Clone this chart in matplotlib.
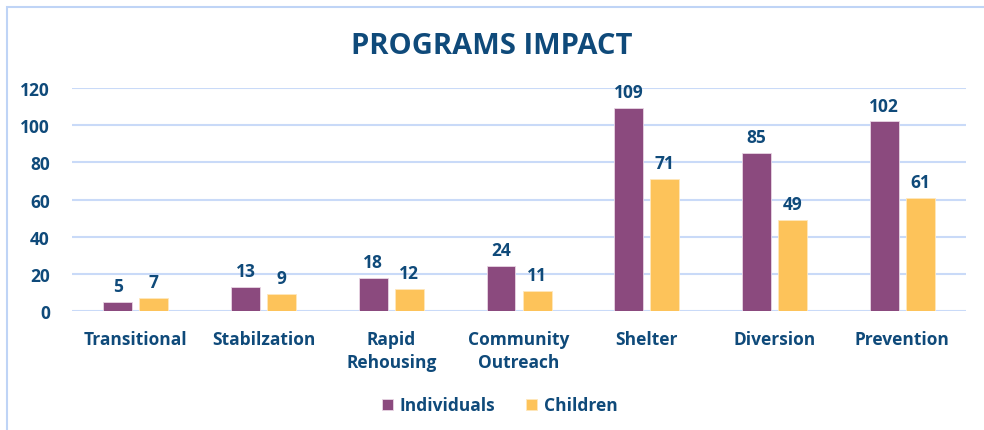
import matplotlib.pyplot as plt
import numpy as np
from matplotlib.patches import Rectangle

categories = ['Transitional', 'Stabilzation', 'Rapid\nRehousing', 'Community\nOutreach',
              'Shelter', 'Diversion', 'Prevention']
individuals = [5, 13, 18, 24, 109, 85, 102]
children = [7, 9, 12, 11, 71, 49, 61]
yticks = [0, 20, 40, 60, 80, 100, 120]

navy = '#0F4A7A'
purple = '#8B4A7E'
yellow = '#FDC35A'
grid = '#C9DAF8'

plt.rcParams['font.family'] = ['Open Sans', 'DejaVu Sans']
plt.rcParams['font.weight'] = 'bold'

fig = plt.figure(figsize=(9.84, 4.31), dpi=100)
ax = fig.add_axes([0.0732, 0.2761, 0.9085, 0.5174])

# light blue frame around the chart
fig.patches.append(Rectangle((7 / 984, -0.1), 1.2, 1.1 - 8 / 431, transform=fig.transFigure,
                             fill=False, edgecolor='#BFD4F6', linewidth=1.5))

x = np.arange(len(categories))
w = 0.227
off = 0.141
b1 = ax.bar(x - off, individuals, w, color=purple, edgecolor='#E8D6E4', linewidth=0.6,
            label='Individuals', zorder=3)
b2 = ax.bar(x + off, children, w, color=yellow, edgecolor='#FFE8BC', linewidth=0.6,
            label='Children', zorder=3)
ax.bar_label(b1, padding=5, color=navy, fontsize=12.5, fontweight='bold')
ax.bar_label(b2, padding=5, color=navy, fontsize=12.5, fontweight='bold')

ax.set_xlim(-0.5, len(categories) - 0.5)
ax.set_ylim(0, 120)
ax.set_yticks(yticks)
ax.set_xticks(x)
ax.set_xticklabels(categories, linespacing=1.3)
ax.tick_params(axis='both', length=0, labelsize=12.5, labelcolor=navy)
ax.tick_params(axis='x', pad=14)
ax.tick_params(axis='y', pad=16)
for lab in ax.get_xticklabels() + ax.get_yticklabels():
    lab.set_fontweight('bold')
ax.yaxis.grid(True, color=grid, linewidth=1.5, zorder=0)
ax.set_axisbelow(True)
for s in ax.spines.values():
    s.set_visible(False)

fig.text(0.5, 0.893, 'PROGRAMS IMPACT', ha='center', va='center', fontsize=21,
         fontweight='bold', color=navy)

leg = fig.legend(loc='center', bbox_to_anchor=(0.508, 0.057), ncol=2, frameon=False,
                 fontsize=12.5, handlelength=0.6, handleheight=0.6, columnspacing=1.8,
                 handletextpad=0.4)
for t in leg.get_texts():
    t.set_color(navy)
    t.set_fontweight('bold')

fig.savefig('out.png', dpi=100)
